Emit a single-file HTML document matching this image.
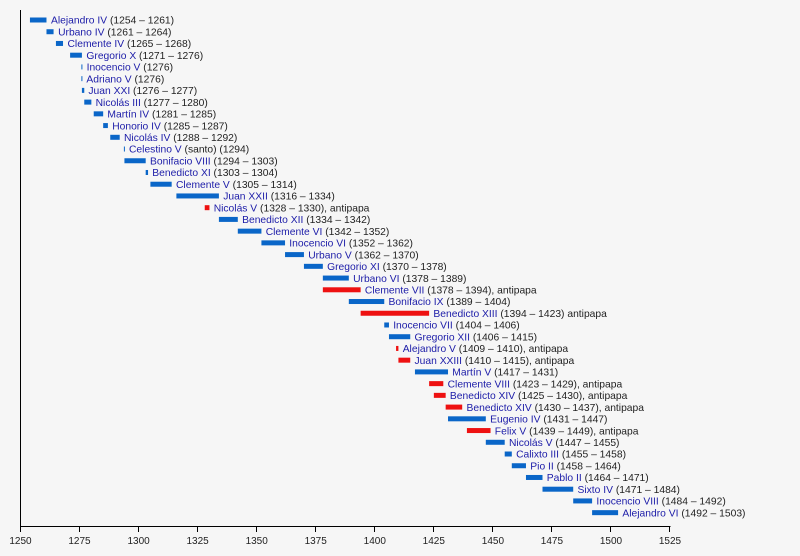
<!DOCTYPE html>
<html><head><meta charset="utf-8"><style>
html,body{margin:0;padding:0;background:#f6f6f6;}
svg{display:block;}
text{font-family:"Liberation Sans",Arial,sans-serif;font-size:10.3px;fill:#222;}
.n{fill:#1c1ca8;}
.b{fill:#0a66c8;}
.r{fill:#ee1111;}
.ax{font-size:10px;text-anchor:middle;}
</style></head><body>
<svg width="800" height="556" viewBox="0 0 800 556" xmlns="http://www.w3.org/2000/svg">
<rect width="800" height="556" fill="#f6f6f6"/>
<g stroke="#000" stroke-width="1" fill="none">
<line x1="20.5" y1="10" x2="20.5" y2="526.5"/>
<line x1="20.5" y1="526.5" x2="670.5" y2="526.5"/>
<line x1="20.5" y1="526" x2="20.5" y2="532"/>
<line x1="79.5" y1="526" x2="79.5" y2="532"/>
<line x1="138.5" y1="526" x2="138.5" y2="532"/>
<line x1="197.5" y1="526" x2="197.5" y2="532"/>
<line x1="256.5" y1="526" x2="256.5" y2="532"/>
<line x1="315.5" y1="526" x2="315.5" y2="532"/>
<line x1="374.5" y1="526" x2="374.5" y2="532"/>
<line x1="433.5" y1="526" x2="433.5" y2="532"/>
<line x1="492.5" y1="526" x2="492.5" y2="532"/>
<line x1="551.5" y1="526" x2="551.5" y2="532"/>
<line x1="610.5" y1="526" x2="610.5" y2="532"/>
<line x1="669.5" y1="526" x2="669.5" y2="532"/>
</g>
<g class="ax">
<text class="ax" x="20.5" y="544">1250</text>
<text class="ax" x="79.5" y="544">1275</text>
<text class="ax" x="138.6" y="544">1300</text>
<text class="ax" x="197.6" y="544">1325</text>
<text class="ax" x="256.7" y="544">1350</text>
<text class="ax" x="315.7" y="544">1375</text>
<text class="ax" x="374.8" y="544">1400</text>
<text class="ax" x="433.8" y="544">1425</text>
<text class="ax" x="492.9" y="544">1450</text>
<text class="ax" x="551.9" y="544">1475</text>
<text class="ax" x="611" y="544">1500</text>
<text class="ax" x="670" y="544">1525</text>
</g>

<g transform="translate(0,20)"><rect class="b" x="29.95" y="-2.5" width="16.53" height="5"/><text x="51" y="3.7"><tspan class="n">Alejandro IV</tspan> (1254 – 1261)</text></g>
<g transform="translate(0,31.73)"><rect class="b" x="46.48" y="-2.5" width="7.09" height="5"/><text x="58.1" y="3.7"><tspan class="n">Urbano IV</tspan> (1261 – 1264)</text></g>
<g transform="translate(0,43.46)"><rect class="b" x="55.93" y="-2.5" width="7.09" height="5"/><text x="67.5" y="3.7"><tspan class="n">Clemente IV</tspan> (1265 – 1268)</text></g>
<g transform="translate(0,55.19)"><rect class="b" x="70.10" y="-2.5" width="11.81" height="5"/><text x="86.4" y="3.7"><tspan class="n">Gregorio X</tspan> (1271 – 1276)</text></g>
<g transform="translate(0,66.92)"><rect class="b" x="81.4" y="-2.5" width="1" height="5"/><text x="86.6" y="3.7"><tspan class="n">Inocencio V</tspan> (1276)</text></g>
<g transform="translate(0,78.65)"><rect class="b" x="81.4" y="-2.5" width="1" height="5"/><text x="86.4" y="3.7"><tspan class="n">Adriano V</tspan> (1276)</text></g>
<g transform="translate(0,90.38)"><rect class="b" x="81.91" y="-2.5" width="2.36" height="5"/><text x="88.4" y="3.7"><tspan class="n">Juan XXI</tspan> (1276 – 1277)</text></g>
<g transform="translate(0,102.11)"><rect class="b" x="84.27" y="-2.5" width="7.09" height="5"/><text x="95.6" y="3.7"><tspan class="n">Nicolás III</tspan> (1277 – 1280)</text></g>
<g transform="translate(0,113.84)"><rect class="b" x="93.72" y="-2.5" width="9.45" height="5"/><text x="107.4" y="3.7"><tspan class="n">Martín IV</tspan> (1281 – 1285)</text></g>
<g transform="translate(0,125.57)"><rect class="b" x="103.17" y="-2.5" width="4.72" height="5"/><text x="112.2" y="3.7"><tspan class="n">Honorio IV</tspan> (1285 – 1287)</text></g>
<g transform="translate(0,137.30)"><rect class="b" x="110.26" y="-2.5" width="9.44" height="5"/><text x="124" y="3.7"><tspan class="n">Nicolás IV</tspan> (1288 – 1292)</text></g>
<g transform="translate(0,149.03)"><rect class="b" x="123.9" y="-2.5" width="1" height="5"/><text x="129" y="3.7"><tspan class="n">Celestino V</tspan> (santo) (1294)</text></g>
<g transform="translate(0,160.76)"><rect class="b" x="124.43" y="-2.5" width="21.26" height="5"/><text x="150" y="3.7"><tspan class="n">Bonifacio VIII</tspan> (1294 – 1303)</text></g>
<g transform="translate(0,172.49)"><rect class="b" x="145.69" y="-2.5" width="2.36" height="5"/><text x="152.3" y="3.7"><tspan class="n">Benedicto XI</tspan> (1303 – 1304)</text></g>
<g transform="translate(0,184.22)"><rect class="b" x="150.41" y="-2.5" width="21.26" height="5"/><text x="176" y="3.7"><tspan class="n">Clemente V</tspan> (1305 – 1314)</text></g>
<g transform="translate(0,195.95)"><rect class="b" x="176.39" y="-2.5" width="42.52" height="5"/><text x="223.2" y="3.7"><tspan class="n">Juan XXII</tspan> (1316 – 1334)</text></g>
<g transform="translate(0,207.68)"><rect class="r" x="204.74" y="-2.5" width="4.72" height="5"/><text x="213.7" y="3.7"><tspan class="n">Nicolás V</tspan> (1328 – 1330), antipapa</text></g>
<g transform="translate(0,219.41)"><rect class="b" x="218.91" y="-2.5" width="18.89" height="5"/><text x="242.1" y="3.7"><tspan class="n">Benedicto XII</tspan> (1334 – 1342)</text></g>
<g transform="translate(0,231.14)"><rect class="b" x="237.80" y="-2.5" width="23.62" height="5"/><text x="265.7" y="3.7"><tspan class="n">Clemente VI</tspan> (1342 – 1352)</text></g>
<g transform="translate(0,242.87)"><rect class="b" x="261.42" y="-2.5" width="23.62" height="5"/><text x="289.3" y="3.7"><tspan class="n">Inocencio VI</tspan> (1352 – 1362)</text></g>
<g transform="translate(0,254.60)"><rect class="b" x="285.04" y="-2.5" width="18.90" height="5"/><text x="308.2" y="3.7"><tspan class="n">Urbano V</tspan> (1362 – 1370)</text></g>
<g transform="translate(0,266.33)"><rect class="b" x="303.94" y="-2.5" width="18.90" height="5"/><text x="327.1" y="3.7"><tspan class="n">Gregorio XI</tspan> (1370 – 1378)</text></g>
<g transform="translate(0,278.06)"><rect class="b" x="322.84" y="-2.5" width="25.98" height="5"/><text x="353.1" y="3.7"><tspan class="n">Urbano VI</tspan> (1378 – 1389)</text></g>
<g transform="translate(0,289.79)"><rect class="r" x="322.84" y="-2.5" width="37.79" height="5"/><text x="364.9" y="3.7"><tspan class="n">Clemente VII</tspan> (1378 – 1394), antipapa</text></g>
<g transform="translate(0,301.52)"><rect class="b" x="348.82" y="-2.5" width="35.43" height="5"/><text x="388.5" y="3.7"><tspan class="n">Bonifacio IX</tspan> (1389 – 1404)</text></g>
<g transform="translate(0,313.25)"><rect class="r" x="360.63" y="-2.5" width="68.50" height="5"/><text x="433.4" y="3.7"><tspan class="n">Benedicto XIII</tspan> (1394 – 1423) antipapa</text></g>
<g transform="translate(0,324.98)"><rect class="b" x="384.25" y="-2.5" width="4.72" height="5"/><text x="393.2" y="3.7"><tspan class="n">Inocencio VII</tspan> (1404 – 1406)</text></g>
<g transform="translate(0,336.71)"><rect class="b" x="388.97" y="-2.5" width="21.26" height="5"/><text x="414.5" y="3.7"><tspan class="n">Gregorio XII</tspan> (1406 – 1415)</text></g>
<g transform="translate(0,348.44)"><rect class="r" x="396.06" y="-2.5" width="2.36" height="5"/><text x="402.7" y="3.7"><tspan class="n">Alejandro V</tspan> (1409 – 1410), antipapa</text></g>
<g transform="translate(0,360.17)"><rect class="r" x="398.42" y="-2.5" width="11.81" height="5"/><text x="414.5" y="3.7"><tspan class="n">Juan XXIII</tspan> (1410 – 1415), antipapa</text></g>
<g transform="translate(0,371.90)"><rect class="b" x="414.95" y="-2.5" width="33.07" height="5"/><text x="452.3" y="3.7"><tspan class="n">Martín V</tspan> (1417 – 1431)</text></g>
<g transform="translate(0,383.63)"><rect class="r" x="429.13" y="-2.5" width="14.17" height="5"/><text x="447.6" y="3.7"><tspan class="n">Clemente VIII</tspan> (1423 – 1429), antipapa</text></g>
<g transform="translate(0,395.36)"><rect class="r" x="433.85" y="-2.5" width="11.81" height="5"/><text x="449.9" y="3.7"><tspan class="n">Benedicto XIV</tspan> (1425 – 1430), antipapa</text></g>
<g transform="translate(0,407.09)"><rect class="r" x="445.66" y="-2.5" width="16.53" height="5"/><text x="466.5" y="3.7"><tspan class="n">Benedicto XIV</tspan> (1430 – 1437), antipapa</text></g>
<g transform="translate(0,418.82)"><rect class="b" x="448.02" y="-2.5" width="37.79" height="5"/><text x="490.1" y="3.7"><tspan class="n">Eugenio IV</tspan> (1431 – 1447)</text></g>
<g transform="translate(0,430.55)"><rect class="r" x="466.92" y="-2.5" width="23.62" height="5"/><text x="494.8" y="3.7"><tspan class="n">Felix V</tspan> (1439 – 1449), antipapa</text></g>
<g transform="translate(0,442.28)"><rect class="b" x="485.81" y="-2.5" width="18.90" height="5"/><text x="509" y="3.7"><tspan class="n">Nicolás V</tspan> (1447 – 1455)</text></g>
<g transform="translate(0,454.01)"><rect class="b" x="504.71" y="-2.5" width="7.09" height="5"/><text x="516.1" y="3.7"><tspan class="n">Calixto III</tspan> (1455 – 1458)</text></g>
<g transform="translate(0,465.74)"><rect class="b" x="511.80" y="-2.5" width="14.17" height="5"/><text x="530.3" y="3.7"><tspan class="n">Pio II</tspan> (1458 – 1464)</text></g>
<g transform="translate(0,477.47)"><rect class="b" x="525.97" y="-2.5" width="16.53" height="5"/><text x="546.8" y="3.7"><tspan class="n">Pablo II</tspan> (1464 – 1471)</text></g>
<g transform="translate(0,489.20)"><rect class="b" x="542.50" y="-2.5" width="30.71" height="5"/><text x="577.5" y="3.7"><tspan class="n">Sixto IV</tspan> (1471 – 1484)</text></g>
<g transform="translate(0,500.93)"><rect class="b" x="573.21" y="-2.5" width="18.89" height="5"/><text x="596.4" y="3.7"><tspan class="n">Inocencio VIII</tspan> (1484 – 1492)</text></g>
<g transform="translate(0,512.66)"><rect class="b" x="592.10" y="-2.5" width="25.99" height="5"/><text x="622.4" y="3.7"><tspan class="n">Alejandro VI</tspan> (1492 – 1503)</text></g>
</svg>
</body></html>
